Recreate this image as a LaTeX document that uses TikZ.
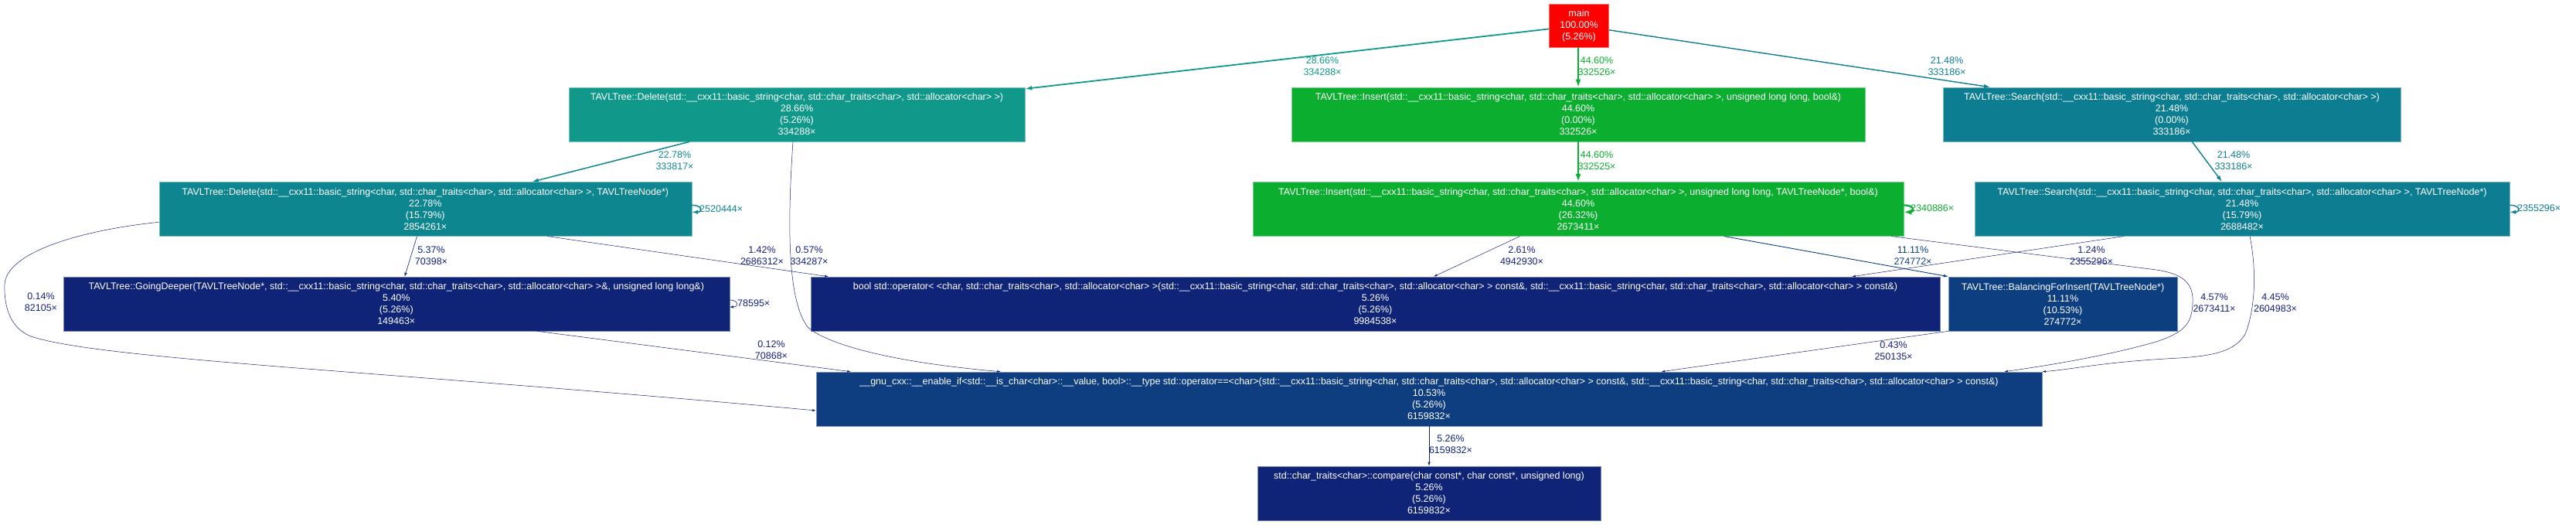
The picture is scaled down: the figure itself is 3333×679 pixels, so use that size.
\documentclass[tikz,border=0pt]{standalone}
\usepackage{fontspec}
\setmainfont{Liberation Sans}
\usetikzlibrary{arrows.meta}
\definecolor{cMain}{HTML}{FF0000}
\definecolor{cIns}{HTML}{0BAE2F}
\definecolor{cDelS}{HTML}{10998A}
\definecolor{cDelN}{HTML}{0E868F}
\definecolor{cSrch}{HTML}{0D7D91}
\definecolor{cBal}{HTML}{0D3F80}
\definecolor{cGnu}{HTML}{0E3D80}
\definecolor{cLow}{HTML}{0F2377}
\definecolor{cSm}{HTML}{16207A}
\begin{document}
\begin{tikzpicture}[x=1pt,y=-1pt,
  font=\fontsize{12.5}{15}\selectfont,
  box/.style={rectangle, inner sep=0pt, text=white, align=center,
    draw=#1!55!white, fill=#1, line width=0.6pt},
  lab/.style={align=center, inner sep=0pt, text=#1},
  labw/.style={anchor=west, inner sep=0pt, text=#1},
  e44/.style={draw=cIns, line width=2.2pt, -{Latex[length=10pt,width=7pt]}},
  e28/.style={draw=cDelS, line width=1.8pt, -{Latex[length=9pt,width=6pt]}},
  e22/.style={draw=cDelN, line width=1.5pt, -{Latex[length=8pt,width=5.5pt]}},
  e21/.style={draw=cSrch, line width=1.4pt, -{Latex[length=8pt,width=5.5pt]}},
  e11/.style={draw=cBal, line width=0.9pt, -{Latex[length=6pt,width=4pt]}},
  elow/.style={draw=cLow, line width=0.6pt, -{Latex[length=5pt,width=3.5pt]}},
  esm/.style={draw=cSm, line width=0.5pt, -{Latex[length=4.5pt,width=3pt]}},
]
\useasboundingbox (0,0) rectangle (3333,679);

% nodes
\node[box=cMain, minimum width=77pt, minimum height=56pt] (main) at (2043,33)
  {main\\100.00\%\\(5.26\%)};
\node[box=cDelS, minimum width=590pt, minimum height=70pt] (delS) at (1031,148)
  {TAVLTree::Delete(std::\_\_cxx11::basic\_string<char, std::char\_traits<char>, std::allocator<char> >)\\28.66\%\\(5.26\%)\\334288×};
\node[box=cIns, minimum width=742pt, minimum height=70pt] (insS) at (2042,148)
  {TAVLTree::Insert(std::\_\_cxx11::basic\_string<char, std::char\_traits<char>, std::allocator<char> >, unsigned long long, bool\&)\\44.60\%\\(0.00\%)\\332526×};
\node[box=cSrch, minimum width=592pt, minimum height=70pt] (srchS) at (2810,148)
  {TAVLTree::Search(std::\_\_cxx11::basic\_string<char, std::char\_traits<char>, std::allocator<char> >)\\21.48\%\\(0.00\%)\\333186×};
\node[box=cDelN, minimum width=689pt, minimum height=70pt] (delN) at (550.3,270.3)
  {TAVLTree::Delete(std::\_\_cxx11::basic\_string<char, std::char\_traits<char>, std::allocator<char> >, TAVLTreeNode*)\\22.78\%\\(15.79\%)\\2854261×};
\node[box=cIns, minimum width=842pt, minimum height=70pt] (insN) at (2042,270.3)
  {TAVLTree::Insert(std::\_\_cxx11::basic\_string<char, std::char\_traits<char>, std::allocator<char> >, unsigned long long, TAVLTreeNode*, bool\&)\\44.60\%\\(26.32\%)\\2673411×};
\node[box=cSrch, minimum width=692pt, minimum height=70pt] (srchN) at (2901,270.3)
  {TAVLTree::Search(std::\_\_cxx11::basic\_string<char, std::char\_traits<char>, std::allocator<char> >, TAVLTreeNode*)\\21.48\%\\(15.79\%)\\2688482×};
\node[box=cLow, minimum width=862pt, minimum height=70pt] (deeper) at (512.8,393)
  {TAVLTree::GoingDeeper(TAVLTreeNode*, std::\_\_cxx11::basic\_string<char, std::char\_traits<char>, std::allocator<char> >\&, unsigned long long\&)\\5.40\%\\(5.26\%)\\149463×};
\node[box=cLow, minimum width=1461pt, minimum height=70pt] (boolop) at (1779.5,393)
  {bool std::operator< <char, std::char\_traits<char>, std::allocator<char> >(std::\_\_cxx11::basic\_string<char, std::char\_traits<char>, std::allocator<char> > const\&, std::\_\_cxx11::basic\_string<char, std::char\_traits<char>, std::allocator<char> > const\&)\\5.26\%\\(5.26\%)\\9984538×};
\node[box=cBal, minimum width=296pt, minimum height=70pt] (bal) at (2669,393)
  {TAVLTree::BalancingForInsert(TAVLTreeNode*)\\11.11\%\\(10.53\%)\\274772×};
\node[box=cGnu, minimum width=1586pt, minimum height=70pt] (gnu) at (1849,516)
  {\_\_gnu\_cxx::\_\_enable\_if<std::\_\_is\_char<char>::\_\_value, bool>::\_\_type std::operator==<char>(std::\_\_cxx11::basic\_string<char, std::char\_traits<char>, std::allocator<char> > const\&, std::\_\_cxx11::basic\_string<char, std::char\_traits<char>, std::allocator<char> > const\&)\\10.53\%\\(5.26\%)\\6159832×};
\node[box=cLow, minimum width=444pt, minimum height=70pt] (cmp) at (1849,638)
  {std::char\_traits<char>::compare(char const*, char const*, unsigned long)\\5.26\%\\(5.26\%)\\6159832×};

% edges
\draw[e28] (main) -- (delS);
\draw[e44] (main.south -| insS) -- (insS.north);
\draw[e21] (main) -- (srchS);
\draw[e44] (insS) -- (insN);
\draw[e21] (srchS) -- (srchN);
\draw[e22] (delS) -- (delN);
\draw[elow] (delN) -- (deeper);
\draw[esm] ([xshift=158pt]delN.south) -- ([xshift=23pt]boolop.north west);
\draw[esm] ([xshift=-5pt]delS.south) .. controls (1018,300) and (1020,390) .. (1045,423)
  .. controls (1070,445) and (1150,468) .. ([xshift=239pt]gnu.north west);
\draw[esm] ([xshift=182pt]deeper.south) -- ([xshift=45pt]gnu.north west);
\draw[esm] ([yshift=-17pt]delN.west) .. controls (110,297) and (8,325) .. (6,368)
  .. controls (5,400) and (15,425) .. (40,435)
  .. controls (130,465) and (500,480) .. ([yshift=-15pt]gnu.west);
\draw[esm] (insN) -- (boolop);
\draw[e11] ([xshift=189pt]insN.south) -- (bal.north west);
\draw[esm] ([xshift=-16pt]insN.south east) -- (2790,349)
  .. controls (2830,355) and (2838,370) .. (2837,392)
  .. controls (2836,420) and (2825,430) .. (2790,442)
  .. controls (2720,462) and (2640,474) .. ([xshift=-49pt]gnu.north east);
\draw[esm] ([xshift=-153pt]srchN.south) -- ([xshift=-114pt]boolop.north east);
\draw[esm] ([xshift=10pt]srchN.south) .. controls (2920,350) and (2918,400) .. (2905,432)
  .. controls (2893,452) and (2870,460) .. (2820,463)
  .. controls (2720,468) and (2680,478) .. (gnu.north east);
\draw[esm] (bal.south west) -- ([xshift=1094pt]gnu.north west);
\draw[elow] (gnu) -- (cmp);

% self loops
\draw[e22] ([yshift=5pt]delN.east) .. controls +(14,0) and +(14,0) .. ([yshift=-4pt]delN.east);
\draw[e44] ([yshift=5pt]insN.east) .. controls +(14,0) and +(14,0) .. ([yshift=-4pt]insN.east);
\draw[e21] ([yshift=5pt]srchN.east) .. controls +(14,0) and +(14,0) .. ([yshift=-4pt]srchN.east);
\draw[elow] ([yshift=5pt]deeper.east) .. controls +(12,0) and +(12,0) .. ([yshift=-4pt]deeper.east);

% edge labels
\node[lab=cDelS] (l1) at (1711,85.5) {28.66\%\\334288×};
\node[lab=cIns] (l2) at (2066,85.5) {44.60\%\\332526×};
\node[lab=cSrch] (l3) at (2519,85.5) {21.48\%\\333186×};
\node[lab=cIns] (l4) at (2066,208) {44.60\%\\332525×};
\node[lab=cSrch] (l5) at (2890,208) {21.48\%\\333186×};
\node[lab=cDelN] (l6) at (873,208) {22.78\%\\333817×};
\node[lab=cLow] (l7) at (558,331) {5.37\%\\70398×};
\node[lab=cSm] (l8) at (986,331) {1.42\%\\2686312×};
\node[lab=cSm] (l9) at (1047,331) {0.57\%\\334287×};
\node[lab=cSm] (l10) at (998,453) {0.12\%\\70868×};
\node[lab=cSm] (l11) at (53,391) {0.14\%\\82105×};
\node[lab=cSm] (l12) at (1969,331) {2.61\%\\4942930×};
\node[lab=cBal] (l13) at (2475,331) {11.11\%\\274772×};
\node[lab=cSm] (l14) at (2865,392) {4.57\%\\2673411×};
\node[lab=cSm] (l15) at (2706,331) {1.24\%\\2355296×};
\node[lab=cSm] (l16) at (2944,392) {4.45\%\\2604983×};
\node[lab=cSm] (l17) at (2450,454) {0.43\%\\250135×};
\node[lab=cLow] (l18) at (1877,575) {5.26\%\\6159832×};
\node[labw=cDelN] (s1) at (905,270) {2520444×};
\node[labw=cIns] (s2) at (2472,269) {2340886×};
\node[labw=cSrch] (s3) at (3257,269) {2355296×};
\node[labw=cLow] (s4) at (954,392) {78595×};
\end{tikzpicture}
\end{document}
